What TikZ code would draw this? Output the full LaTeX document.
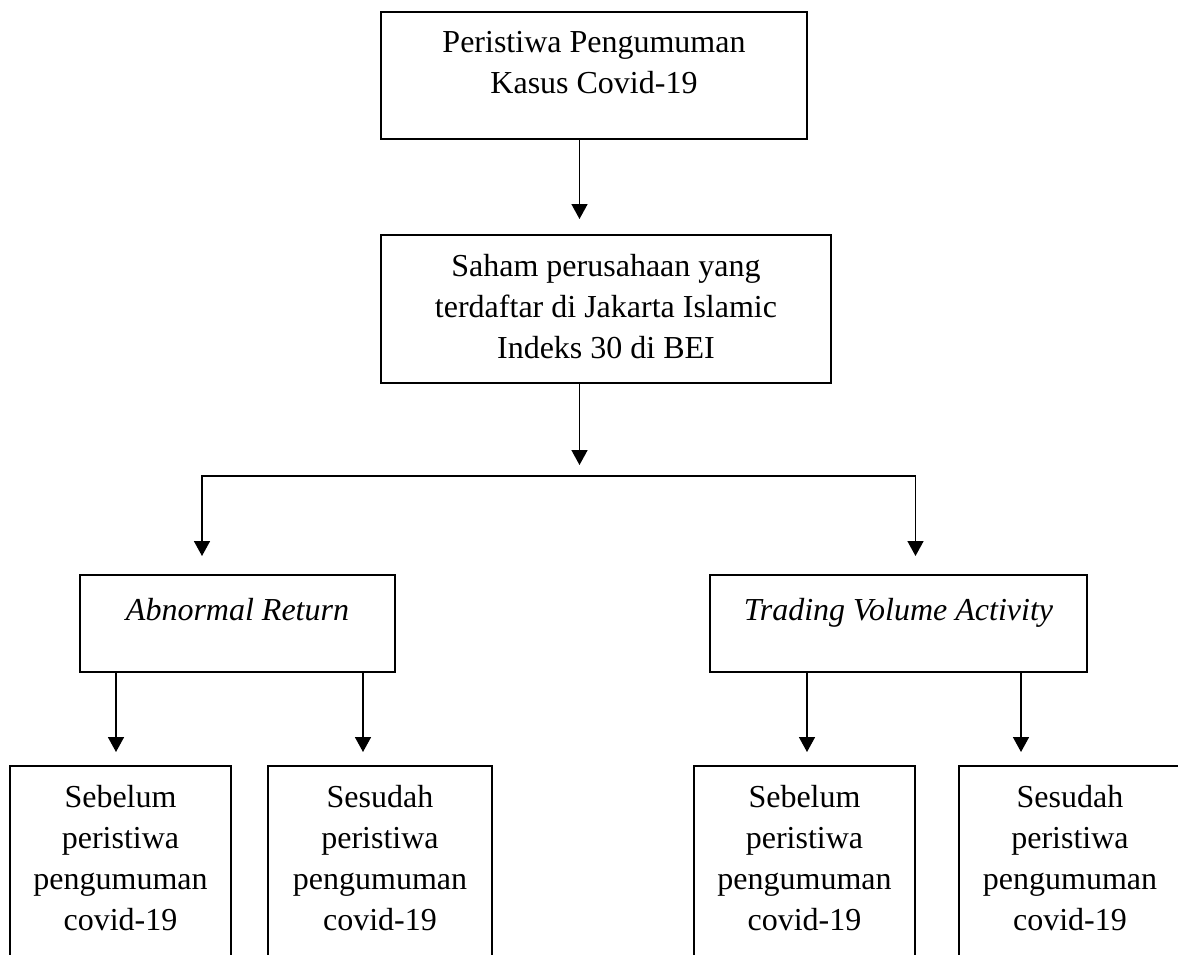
\documentclass[tikz,border=0pt]{standalone}
\usepackage{fontspec}
\setmainfont{Liberation Serif}
\usetikzlibrary{positioning,arrows.meta}

\begin{document}
\begin{tikzpicture}[x=0.5pt,y=-0.5pt,
box/.style = {draw, rectangle, line width=1pt, inner sep=0pt},
txt/.style = {align=center, inner sep=0pt, font=\fontsize{16pt}{20.5pt}\selectfont},
arr/.style = {line width=0.8pt, -{Triangle[width=8pt,length=7.5pt]}}]
\useasboundingbox (0,0) rectangle (1178,954);
\node[box, minimum width=213pt, minimum height=63.5pt] (peristiwa) at (594,75.5) {};
\node[box, minimum width=225pt, minimum height=74pt] (saham) at (606,309) {};
\node[box, minimum width=157.5pt, minimum height=48.5pt] (ar) at (237.5,623.5) {};
\node[box, minimum width=188.5pt, minimum height=48.5pt] (tva) at (898.5,623.5) {};
\node[box, minimum width=110.5pt, minimum height=112pt] (ar1) at (120.5,878) {};
\node[box, minimum width=112pt, minimum height=112pt] (ar2) at (380,878) {};
\node[box, minimum width=110.5pt, minimum height=112pt] (tva1) at (804.5,878) {};
\node[box, minimum width=111pt, minimum height=112pt] (tva2) at (1070,878) {};
\node[txt, below=10pt of peristiwa.north] (tperistiwa) {Peristiwa Pengumuman\\Kasus Covid-19};
\node[txt, below=10pt of saham.north] (tsaham) {Saham perusahaan yang\\terdaftar di Jakarta Islamic\\Indeks 30 di BEI};
\node[txt, below=12pt of ar.north] (tar) {\itshape Abnormal Return};
\node[txt, below=12pt of tva.north] (ttva) {\itshape Trading Volume Activity};
\node[txt, below=10pt of ar1.north] (tar1) {Sebelum\\peristiwa\\pengumuman\\covid-19};
\node[txt, below=10pt of ar2.north] (tar2) {Sesudah\\peristiwa\\pengumuman\\covid-19};
\node[txt, below=10pt of tva1.north] (ttva1) {Sebelum\\peristiwa\\pengumuman\\covid-19};
\node[txt, below=10pt of tva2.north] (ttva2) {Sesudah\\peristiwa\\pengumuman\\covid-19};
\coordinate (spine) at (579.5,476);
\coordinate (lx) at (202,476);
\coordinate (rx) at (915.5,476);
\coordinate (d1) at (116,0);
\coordinate (d2) at (363,0);
\coordinate (d3) at (807,0);
\coordinate (d4) at (1021,0);
\draw[arr, shorten >=7.5pt] (peristiwa.south -| spine) -- (saham.north -| spine);
\draw[arr, shorten >=5.5pt] (saham.south -| spine) -- (spine);
\draw[arr, {Triangle[width=8pt,length=7.5pt]}-{Triangle[width=8pt,length=7.5pt]}, shorten <=9pt, shorten >=9pt] (ar.north -| lx) -- (lx) -- (rx) -- (tva.north -| rx);
\draw[arr, shorten >=6.5pt] (ar.south -| d1) -- (ar1.north -| d1);
\draw[arr, shorten >=6.5pt] (ar.south -| d2) -- (ar2.north -| d2);
\draw[arr, shorten >=6.5pt] (tva.south -| d3) -- (tva1.north -| d3);
\draw[arr, shorten >=6.5pt] (tva.south -| d4) -- (tva2.north -| d4);
\end{tikzpicture}
\end{document}
